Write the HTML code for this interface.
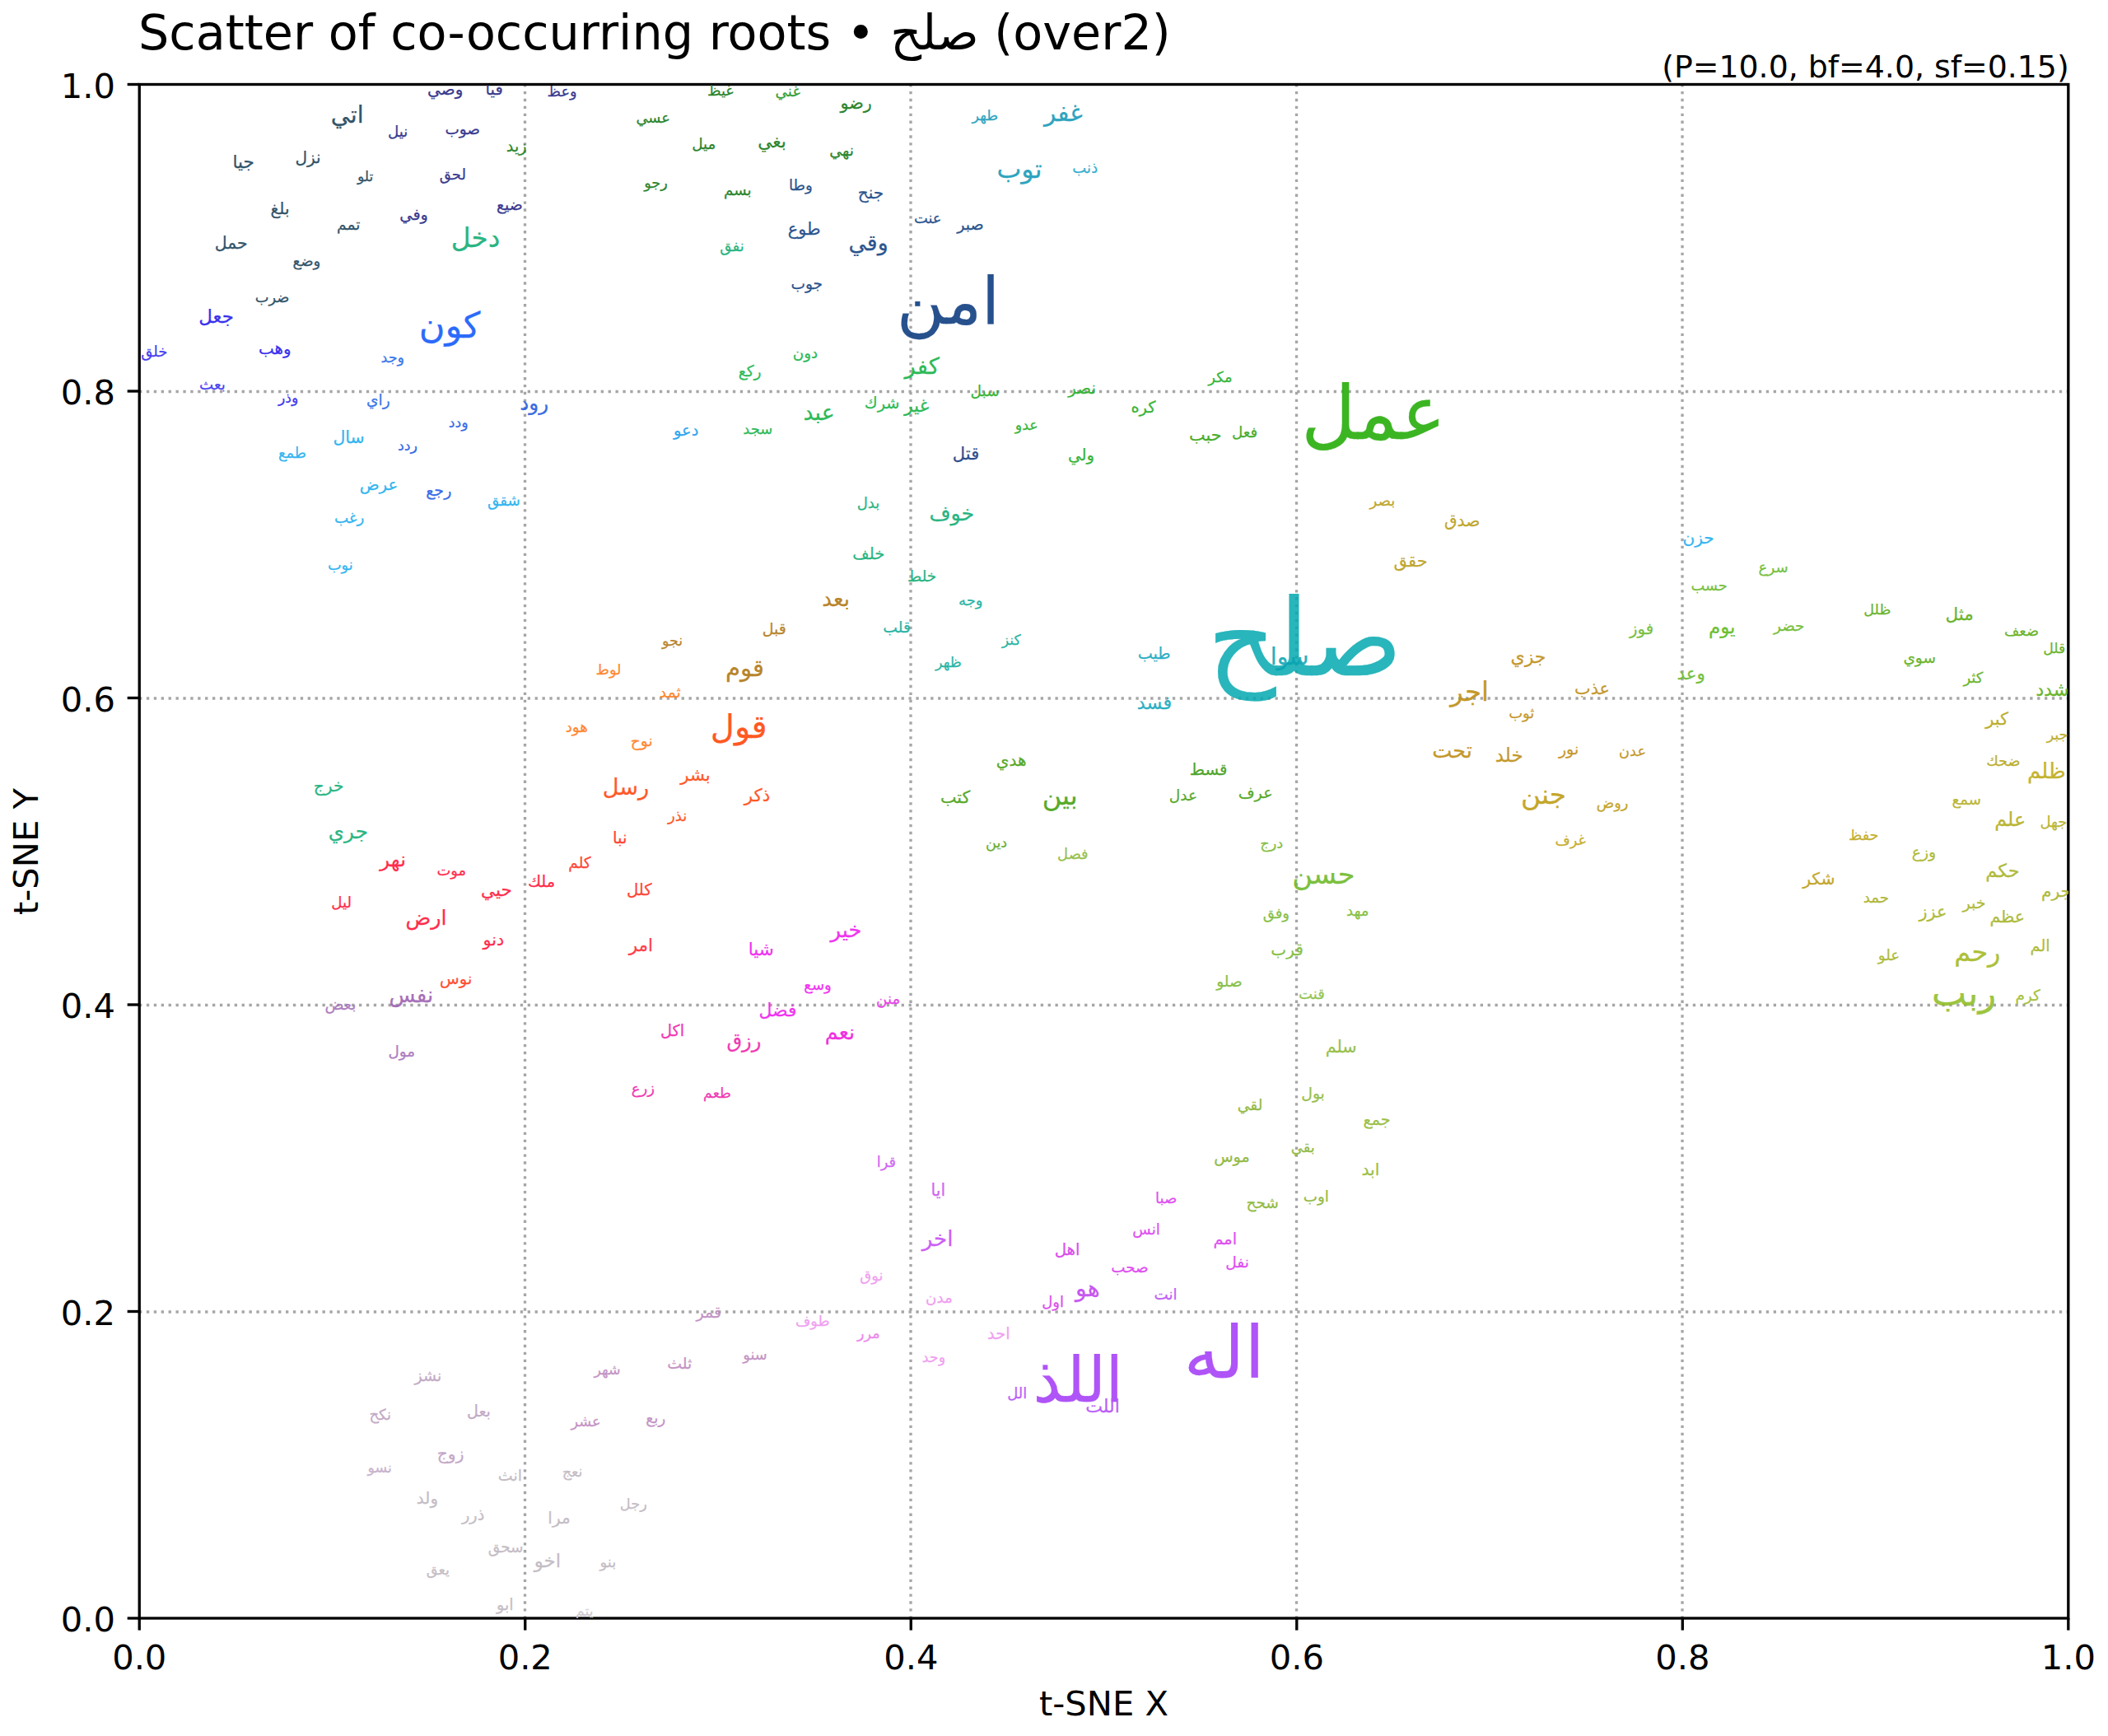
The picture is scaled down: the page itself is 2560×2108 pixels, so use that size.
<!DOCTYPE html>
<html lang="en"><head><meta charset="utf-8"><title>Scatter of co-occurring roots</title>
<style>
html,body{margin:0;padding:0}
body{width:2560px;height:2108px;background:#ffffff;position:relative;overflow:hidden;font-family:"DejaVu Sans","Liberation Sans",sans-serif;color:#000}
.t{position:absolute;white-space:nowrap;line-height:1}
#gr,#ax{position:absolute;left:169.25px;top:102.5px;width:2342.55px;height:1862.5px;overflow:hidden}
#ax b{position:absolute;white-space:nowrap;line-height:1;font-weight:normal;direction:rtl;opacity:0.92;-webkit-text-stroke:0.25px currentColor}
.xl{position:absolute;white-space:nowrap;line-height:1;font-size:41.67px;transform:translateX(-50%)}
.yl{position:absolute;white-space:nowrap;line-height:1;font-size:41.67px;text-align:right}
</style></head><body>
<div class="t" id="title" style="left:168px;top:11px;font-size:58.8px">Scatter of co-occurring roots • صلح (over2)</div>
<div class="t" id="sub" style="right:47.3px;top:62.9px;font-size:37.85px">(P=10.0, bf=4.0, sf=0.15)</div>
<div id="gr">
<svg width="2342.55" height="1862.5" viewBox="0 0 2342.55 1862.5" style="position:absolute;left:0;top:0" fill="none" stroke="#a6a6a6" stroke-width="3.333" stroke-dasharray="3.333 5.567">
<line x1="468.51" y1="1862.5" x2="468.51" y2="0"/>
<line x1="937.02" y1="1862.5" x2="937.02" y2="0"/>
<line x1="1405.53" y1="1862.5" x2="1405.53" y2="0"/>
<line x1="1874.04" y1="1862.5" x2="1874.04" y2="0"/>
<line x1="0" y1="1490" x2="2342.55" y2="1490"/>
<line x1="0" y1="1117.5" x2="2342.55" y2="1117.5"/>
<line x1="0" y1="745" x2="2342.55" y2="745"/>
<line x1="0" y1="372.5" x2="2342.55" y2="372.5"/>
</svg>
</div>
<svg width="2560" height="2108" viewBox="0 0 2560 2108" style="position:absolute;left:0;top:0" fill="none" stroke="#000" stroke-width="3.333">
<rect x="169.25" y="102.5" width="2342.55" height="1862.5"/>
<line x1="169.25" y1="1965" x2="169.25" y2="1979.58"/>
<line x1="154.67" y1="1965" x2="169.25" y2="1965"/>
<line x1="637.76" y1="1965" x2="637.76" y2="1979.58"/>
<line x1="154.67" y1="1592.5" x2="169.25" y2="1592.5"/>
<line x1="1106.27" y1="1965" x2="1106.27" y2="1979.58"/>
<line x1="154.67" y1="1220" x2="169.25" y2="1220"/>
<line x1="1574.78" y1="1965" x2="1574.78" y2="1979.58"/>
<line x1="154.67" y1="847.5" x2="169.25" y2="847.5"/>
<line x1="2043.29" y1="1965" x2="2043.29" y2="1979.58"/>
<line x1="154.67" y1="475" x2="169.25" y2="475"/>
<line x1="2511.8" y1="1965" x2="2511.8" y2="1979.58"/>
<line x1="154.67" y1="102.5" x2="169.25" y2="102.5"/>
</svg>
<div id="ax">
<b style="left:1297.1px;top:608.22px;font-size:129.76px;color:#05a9b1;opacity:0.86">صلح</b>
<b style="left:1411.04px;top:354.05px;font-size:90.88px;color:#2caf11">عمل</b>
<b style="left:1268.23px;top:1496.99px;font-size:87.93px;color:#a946f7">اله</b>
<b style="left:919.67px;top:223.72px;font-size:79.58px;color:#144384">امن</b>
<b style="left:1085.34px;top:1535.08px;font-size:76.03px;color:#a946f7">اللذ</b>
<b style="left:2176.57px;top:1080.32px;font-size:45.07px;color:#8ebc23;opacity:0.86">ربب</b>
<b style="left:339.39px;top:271.44px;font-size:43.3px;color:#1a5ffa">كون</b>
<b style="left:693.59px;top:759.17px;font-size:40.01px;color:#ff4c0f">قول</b>
<b style="left:1399.88px;top:942.14px;font-size:33.59px;color:#71bb2f">حسن</b>
<b style="left:378.42px;top:170.54px;font-size:32.79px;color:#17af78">دخل</b>
<b style="left:1677.72px;top:846.61px;font-size:32.72px;color:#bfa01a">جنن</b>
<b style="left:1592px;top:721.89px;font-size:32.32px;color:#bf911a">اجر</b>
<b style="left:1096.39px;top:847.02px;font-size:32.05px;color:#4ca317">بين</b>
<b style="left:1041.22px;top:87.55px;font-size:31.77px;color:#1d9dbb">توب</b>
<b style="left:2204.06px;top:1038.54px;font-size:31.77px;color:#a7bb29">رحم</b>
<b style="left:1098.67px;top:19.48px;font-size:29.65px;color:#1d9dbb">غفر</b>
<b style="left:711.65px;top:694.04px;font-size:29.17px;color:#b27b19">قوم</b>
<b style="left:232.5px;top:22.4px;font-size:28.68px;color:#22475d">اتي</b>
<b style="left:1373.46px;top:680.68px;font-size:28.63px;color:#07a3b1;opacity:0.86">سوا</b>
<b style="left:1136.69px;top:1448.63px;font-size:28.44px;color:#c349ef">هو</b>
<b style="left:929.29px;top:328.95px;font-size:27.53px;color:#1bb54c">كفر</b>
<b style="left:562.39px;top:839.56px;font-size:27.14px;color:#ff4c15">رسل</b>
<b style="left:861.21px;top:179.66px;font-size:26.88px;color:#194886">وقي</b>
<b style="left:806.24px;top:385.11px;font-size:26.83px;color:#1bb54c">عبد</b>
<b style="left:828.98px;top:611.26px;font-size:26.22px;color:#b27b19">بعد</b>
<b style="left:950.42px;top:1388.63px;font-size:26.17px;color:#c852f4">اخر</b>
<b style="left:303.31px;top:1092.3px;font-size:26.11px;color:#a064b2">نفس</b>
<b style="left:2292.87px;top:821.84px;font-size:25.91px;color:#bfad20">ظلم</b>
<b style="left:839.16px;top:1014.96px;font-size:25.86px;color:#ef23ef">خير</b>
<b style="left:1570.06px;top:796.49px;font-size:25.52px;color:#bf911a">تحت</b>
<b style="left:832.55px;top:1138.42px;font-size:25.46px;color:#ef1edd">نعم</b>
<b style="left:323.32px;top:999.92px;font-size:25.45px;color:#ff1b3e">ارض</b>
<b style="left:959.13px;top:508.32px;font-size:25.28px;color:#17af78">خوف</b>
<b style="left:462.09px;top:375.42px;font-size:24.69px;color:#2960dd">رود</b>
<b style="left:292.05px;top:929.6px;font-size:24.6px;color:#ff1b3e">نهر</b>
<b style="left:229.61px;top:895.52px;font-size:24.57px;color:#17af78">جري</b>
<b style="left:713.2px;top:1149.99px;font-size:24.05px;color:#ef29ad">رزق</b>
<b style="left:2252.93px;top:881.7px;font-size:23.81px;color:#b6b025">علم</b>
<b style="left:1646.43px;top:803.11px;font-size:23.04px;color:#bf911a">خلد</b>
<b style="left:1905.7px;top:647.75px;font-size:23px;color:#5fbb23">يوم</b>
<b style="left:479.48px;top:1781.81px;font-size:22.88px;color:#c1b8c1">اخو</b>
<b style="left:72.05px;top:270.28px;font-size:22.86px;color:#2920ed">جعل</b>
<b style="left:2242.06px;top:943.6px;font-size:22.47px;color:#a9b62b">حكم</b>
<b style="left:2302.91px;top:723.78px;font-size:22.39px;color:#60af1b">شدد</b>
<b style="left:1211.56px;top:739.79px;font-size:22.35px;color:#17a9c0">فسد</b>
<b style="left:928.69px;top:379.2px;font-size:22.03px;color:#1bb54c">غير</b>
<b style="left:1148.96px;top:1594.57px;font-size:22.03px;color:#b652f7">اللت</b>
<b style="left:1665.23px;top:684.7px;font-size:22px;color:#bf911a">جزي</b>
<b style="left:752.16px;top:1113.31px;font-size:21.88px;color:#ef23ef">فضل</b>
<b style="left:750.9px;top:58.06px;font-size:21.78px;color:#197b19">بغي</b>
<b style="left:113.18px;top:83.27px;font-size:21.6px;color:#22475d">جيا</b>
<b style="left:414.7px;top:967.29px;font-size:21.54px;color:#ff1b3e">حيي</b>
<b style="left:2193.31px;top:632px;font-size:21.53px;color:#60af1b">مثل</b>
<b style="left:594.4px;top:1034.11px;font-size:21.51px;color:#ff2f3a">امر</b>
<b style="left:739.49px;top:1039.19px;font-size:21.5px;color:#ef23ef">شيا</b>
<b style="left:1867.29px;top:704.61px;font-size:21.41px;color:#6cbb2f">وعد</b>
<b style="left:734.42px;top:852.31px;font-size:21.38px;color:#ff4c15">ذكر</b>
<b style="left:656.96px;top:827.81px;font-size:21.21px;color:#ff4c15">بشر</b>
<b style="left:987.57px;top:437.87px;font-size:21.08px;color:#1c4085">قتل</b>
<b style="left:1523.34px;top:568.21px;font-size:20.96px;color:#bba01e">حقق</b>
<b style="left:2241.88px;top:760.71px;font-size:20.92px;color:#b7a91e">كبر</b>
<b style="left:787.48px;top:165.12px;font-size:20.86px;color:#194886">طوع</b>
<b style="left:1274.77px;top:415.25px;font-size:20.82px;color:#3aa717">حبب</b>
<b style="left:1742.8px;top:723.78px;font-size:20.82px;color:#bf911a">عذب</b>
<b style="left:2161.16px;top:994.07px;font-size:20.75px;color:#a9b62b">عزز</b>
<b style="left:851.22px;top:12.25px;font-size:20.75px;color:#197b19">رضو</b>
<b style="left:1440.41px;top:1158.76px;font-size:20.71px;color:#91bb41">سلم</b>
<b style="left:972.76px;top:855.13px;font-size:20.67px;color:#4ca317">كتب</b>
<b style="left:417.33px;top:1028.37px;font-size:20.6px;color:#ff1b3e">دنو</b>
<b style="left:961.32px;top:1332.12px;font-size:20.47px;color:#cc5bf1">ايا</b>
<b style="left:91.45px;top:182.59px;font-size:20.44px;color:#22475d">حمل</b>
<b style="left:235.18px;top:418.22px;font-size:20.43px;color:#23afef">سال</b>
<b style="left:2247.22px;top:1000.19px;font-size:20.4px;color:#a9b62b">عظم</b>
<b style="left:1484.23px;top:1307.72px;font-size:20.28px;color:#93bb38">ابد</b>
<b style="left:361.54px;top:1652.36px;font-size:20.26px;color:#bfa0c3">زوج</b>
<b style="left:2019.95px;top:954.23px;font-size:20.24px;color:#bfa01a">شكر</b>
<b style="left:1584.66px;top:519.17px;font-size:20.2px;color:#bba01e">صدق</b>
<b style="left:211.58px;top:841.44px;font-size:20.16px;color:#17af78">خرج</b>
<b style="left:189.13px;top:78.93px;font-size:20.13px;color:#22475d">نزل</b>
<b style="left:159.35px;top:140.82px;font-size:20.09px;color:#22475d">بلغ</b>
<b style="left:2309.84px;top:969.16px;font-size:20.09px;color:#a9b62b">جرم</b>
<b style="left:872.53px;top:121.61px;font-size:20.08px;color:#194886">جنح</b>
<b style="left:1040.55px;top:810.08px;font-size:20.06px;color:#4ca317">هدي</b>
<b style="left:1874.21px;top:540.02px;font-size:20.05px;color:#23afef">حزن</b>
<b style="left:1374.07px;top:1040.73px;font-size:20.03px;color:#7ebb38">قرب</b>
<b style="left:336.54px;top:1706.87px;font-size:20.02px;color:#c1b8c1">ولد</b>
<b style="left:496.1px;top:1731.14px;font-size:19.97px;color:#c1b8c1">مرا</b>
<b style="left:349.86px;top:-3.22px;font-size:19.96px;color:#2a2a86">وصي</b>
<b style="left:574.75px;top:905.03px;font-size:19.95px;color:#ff3827">نبا</b>
<b style="left:144.83px;top:311.72px;font-size:19.86px;color:#2920ed">وهب</b>
<b style="left:1127.76px;top:440.7px;font-size:19.86px;color:#29af29">ولي</b>
<b style="left:267.41px;top:476.87px;font-size:19.8px;color:#23afef">عرض</b>
<b style="left:1111.4px;top:1405.45px;font-size:19.78px;color:#d941ea">اهل</b>
<b style="left:1128.12px;top:359.11px;font-size:19.75px;color:#29af29">نصر</b>
<b style="left:1275.56px;top:822.44px;font-size:19.71px;color:#409d17">قسط</b>
<b style="left:1809.83px;top:651.72px;font-size:19.67px;color:#6cbb2f">فوز</b>
<b style="left:591.67px;top:968.88px;font-size:19.67px;color:#ff3827">كلل</b>
<b style="left:866.09px;top:560.67px;font-size:19.65px;color:#17af78">خلف</b>
<b style="left:420.33px;top:-3.38px;font-size:19.55px;color:#2a2a86">فيا</b>
<b style="left:471.7px;top:958.2px;font-size:19.47px;color:#ff1b3e">ملك</b>
<b style="left:364.86px;top:1076.2px;font-size:19.44px;color:#ff411e">نوس</b>
<b style="left:648.83px;top:410.52px;font-size:19.41px;color:#1da0ef">دعو</b>
<b style="left:1304.15px;top:1392.04px;font-size:19.38px;color:#dd41ef">امم</b>
<b style="left:1204.19px;top:382.5px;font-size:19.37px;color:#29af29">كره</b>
<b style="left:1029.84px;top:1507.22px;font-size:19.37px;color:#ef98ef">احد</b>
<b style="left:445.57px;top:65.4px;font-size:19.35px;color:#1c811c">زيد</b>
<b style="left:391.8px;top:1727.96px;font-size:19.32px;color:#c1b8c1">ذرر</b>
<b style="left:316.07px;top:148.2px;font-size:19.3px;color:#2a2a86">وفي</b>
<b style="left:1334.39px;top:850.21px;font-size:19.28px;color:#4ca317">عرف</b>
<b style="left:880.56px;top:377.06px;font-size:19.27px;color:#1bb54c">شرك</b>
<b style="left:632.67px;top:1139.61px;font-size:19.24px;color:#ef29ad">اكل</b>
<b style="left:433.72px;top:1836.71px;font-size:19.22px;color:#c1b8c1">ابو</b>
<b style="left:1304.92px;top:1292.67px;font-size:19.21px;color:#8bb638">موس</b>
<b style="left:2296.37px;top:1036.15px;font-size:19.19px;color:#a9b62b">الم</b>
<b style="left:1212.39px;top:681.84px;font-size:19.15px;color:#17a9c0">طيب</b>
<b style="left:1486.26px;top:1247.39px;font-size:19.14px;color:#93bb38">جمع</b>
<b style="left:397.68px;top:1601.44px;font-size:19.1px;color:#bda3c1">بعل</b>
<b style="left:225.37px;top:1107.22px;font-size:19.09px;color:#a975bb">بعض</b>
<b style="left:993.09px;top:160.73px;font-size:19.07px;color:#194886">صبر</b>
<b style="left:2214.29px;top:984.08px;font-size:19.06px;color:#a9b62b">خبر</b>
<b style="left:348px;top:483.85px;font-size:19.02px;color:#2960e6">رجع</b>
<b style="left:334.34px;top:1558.29px;font-size:19.01px;color:#bda3c1">نشز</b>
<b style="left:435.53px;top:1679.2px;font-size:19px;color:#c1b8c1">انث</b>
<b style="left:676.31px;top:1481.04px;font-size:18.98px;color:#bf8bc1">قمر</b>
<b style="left:756.44px;top:651.26px;font-size:18.97px;color:#b27b19">قبل</b>
<b style="left:1723.74px;top:797.7px;font-size:18.92px;color:#bf911a">نور</b>
<b style="left:641.06px;top:1543.86px;font-size:18.91px;color:#bf8bc1">ثلث</b>
<b style="left:433.76px;top:136.6px;font-size:18.91px;color:#2a2a86">ضيع</b>
<b style="left:1410.94px;top:1216.18px;font-size:18.85px;color:#91bb41">بول</b>
<b style="left:2152.49px;top:923.42px;font-size:18.85px;color:#a9b62b">وزع</b>
<b style="left:838.05px;top:71.66px;font-size:18.81px;color:#197b19">نهي</b>
<b style="left:903.1px;top:650.66px;font-size:18.8px;color:#17af9d">قلب</b>
<b style="left:520.96px;top:936.92px;font-size:18.73px;color:#ff3827">كلم</b>
<b style="left:727.48px;top:339.13px;font-size:18.71px;color:#1bb54c">ركع</b>
<b style="left:239.71px;top:161.79px;font-size:18.7px;color:#22475d">تمم</b>
<b style="left:614.95px;top:1610.97px;font-size:18.69px;color:#bf8bc1">ربع</b>
<b style="left:631.62px;top:729.93px;font-size:18.68px;color:#ff7e21">ثمد</b>
<b style="left:1333.57px;top:1230.55px;font-size:18.64px;color:#8bb638">لقي</b>
<b style="left:791.16px;top:233.42px;font-size:18.61px;color:#194886">جوب</b>
<b style="left:1250.52px;top:854.72px;font-size:18.58px;color:#4ca317">عدل</b>
<b style="left:1318.96px;top:1421.47px;font-size:18.57px;color:#dd41ef">نفل</b>
<b style="left:932.78px;top:588.12px;font-size:18.57px;color:#17af78">خلط</b>
<b style="left:596.6px;top:788.71px;font-size:18.57px;color:#ff7e21">نوح</b>
<b style="left:275.74px;top:374.89px;font-size:18.57px;color:#296ce6">راي</b>
<b style="left:1009.28px;top:363.37px;font-size:18.53px;color:#29af29">سبل</b>
<b style="left:1344.23px;top:1349.62px;font-size:18.53px;color:#8bb638">شحح</b>
<b style="left:423.49px;top:1767.48px;font-size:18.5px;color:#c1b8c1">سحق</b>
<b style="left:2142.17px;top:687.67px;font-size:18.47px;color:#60af1b">سوي</b>
<b style="left:1308.05px;top:1080.04px;font-size:18.45px;color:#7ebb38">صلو</b>
<b style="left:371.21px;top:45.1px;font-size:18.45px;color:#2a2a86">صوب</b>
<b style="left:236.65px;top:517.53px;font-size:18.39px;color:#23afef">رغب</b>
<b style="left:1179.99px;top:1427.42px;font-size:18.36px;color:#dd41ef">صحب</b>
<b style="left:2278.26px;top:1097.84px;font-size:18.36px;color:#a0bd32">كرم</b>
<b style="left:793.5px;top:317.01px;font-size:18.36px;color:#1bb54c">دون</b>
<b style="left:302.27px;top:1165.98px;font-size:18.34px;color:#a975bb">مول</b>
<b style="left:422.72px;top:496.63px;font-size:18.33px;color:#23afef">شقق</b>
<b style="left:1984.86px;top:648.9px;font-size:18.33px;color:#6cbb2f">حضر</b>
<b style="left:954.78px;top:1464.56px;font-size:18.32px;color:#ef98ef">مدن</b>
<b style="left:772.35px;top:-0.3px;font-size:18.32px;color:#299829">غني</b>
<b style="left:670.99px;top:63.11px;font-size:18.31px;color:#197b19">ميل</b>
<b style="left:1232.32px;top:1460.03px;font-size:18.29px;color:#bb52f7">انت</b>
<b style="left:1206.12px;top:1381.88px;font-size:18.28px;color:#dd41ef">انس</b>
<b style="left:301.69px;top:48.76px;font-size:18.27px;color:#2a2a86">نيل</b>
<b style="left:894.74px;top:1101.82px;font-size:18.25px;color:#e638e6">منن</b>
<b style="left:788.78px;top:113.53px;font-size:18.24px;color:#194886">وطا</b>
<b style="left:517.41px;top:771.4px;font-size:18.24px;color:#ff7e21">هود</b>
<b style="left:2093.45px;top:978.64px;font-size:18.24px;color:#abb229">حمد</b>
<b style="left:1413.6px;top:1341.91px;font-size:18.24px;color:#8bb638">اوب</b>
<b style="left:709.79px;top:119.61px;font-size:18.23px;color:#197b19">بسم</b>
<b style="left:2111.49px;top:1048.92px;font-size:18.22px;color:#a9b62b">علو</b>
<b style="left:705.11px;top:187.73px;font-size:18.21px;color:#17af78">نفق</b>
<b style="left:1326.77px;top:413.17px;font-size:18.2px;color:#3aa717">فعل</b>
<b style="left:559.17px;top:1785.48px;font-size:18.2px;color:#c1b8c1">بنو</b>
<b style="left:72.86px;top:355.75px;font-size:18.18px;color:#3a34f1">بعث</b>
<b style="left:641.71px;top:879.23px;font-size:18.18px;color:#ff4c15">نذر</b>
<b style="left:232.95px;top:984.81px;font-size:18.17px;color:#ff1b3e">ليل</b>
<b style="left:1.9px;top:315.21px;font-size:18.15px;color:#362ff1">خلق</b>
<b style="left:1966.34px;top:577.16px;font-size:18.14px;color:#6cbb2f">سرع</b>
<b style="left:2201.34px;top:859.52px;font-size:18.14px;color:#b6b025">سمع</b>
<b style="left:186.32px;top:205.3px;font-size:18.13px;color:#22475d">وضع</b>
<b style="left:1494.28px;top:496.61px;font-size:18.12px;color:#bba01e">بصر</b>
<b style="left:1233.77px;top:1343.51px;font-size:18.11px;color:#dd41ef">صبا</b>
<b style="left:1465.67px;top:994.66px;font-size:18.11px;color:#7ebb38">مهد</b>
<b style="left:1407.87px;top:1095.37px;font-size:18.09px;color:#8cbf46">قنت</b>
<b style="left:807.07px;top:1084.93px;font-size:18.09px;color:#ef23ef">وسع</b>
<b style="left:994.76px;top:617.45px;font-size:18.09px;color:#17af9d">وجه</b>
<b style="left:1133.12px;top:92.97px;font-size:18.09px;color:#2aa9cc">ذنب</b>
<b style="left:597.52px;top:1210.96px;font-size:18.08px;color:#ef29ad">زرع</b>
<b style="left:364.4px;top:100.13px;font-size:18.08px;color:#2a2a86">لحق</b>
<b style="left:279.14px;top:1606.76px;font-size:18.07px;color:#bda3c1">نكح</b>
<b style="left:871.49px;top:499.75px;font-size:18.06px;color:#17af78">بدل</b>
<b style="left:1364.41px;top:997.77px;font-size:18.04px;color:#7ebb38">وفق</b>
<b style="left:1662.88px;top:754.84px;font-size:17.98px;color:#bf911a">ثوب</b>
<b style="left:1095.99px;top:1469.59px;font-size:17.94px;color:#d941ea">اول</b>
<b style="left:895.45px;top:1299.34px;font-size:17.93px;color:#cc5bf1">قرا</b>
<b style="left:1053.96px;top:1580.19px;font-size:17.93px;color:#b652f7">الل</b>
<b style="left:875.12px;top:1437.97px;font-size:17.93px;color:#ef98ef">نوق</b>
<b style="left:1298.01px;top:346.85px;font-size:17.92px;color:#29af29">مكر</b>
<b style="left:1398.6px;top:1281.32px;font-size:17.89px;color:#8bb638">بقي</b>
<b style="left:2215.22px;top:711.62px;font-size:17.88px;color:#60af1b">كثر</b>
<b style="left:361.18px;top:945.19px;font-size:17.88px;color:#ff1b3e">موت</b>
<b style="left:1114.86px;top:925.85px;font-size:17.88px;color:#91bb41">فصل</b>
<b style="left:733.02px;top:409.69px;font-size:17.87px;color:#1bb54c">سجد</b>
<b style="left:1360.92px;top:912.14px;font-size:17.86px;color:#7ebb38">درج</b>
<b style="left:940.65px;top:153.84px;font-size:17.86px;color:#194886">عنت</b>
<b style="left:603.23px;top:31.62px;font-size:17.85px;color:#197b19">عسي</b>
<b style="left:689.81px;top:-1.84px;font-size:17.84px;color:#197b19">غيظ</b>
<b style="left:168.84px;top:438.77px;font-size:17.84px;color:#23afef">طمع</b>
<b style="left:2308.25px;top:886.95px;font-size:17.82px;color:#b6b025">جهل</b>
<b style="left:1769.47px;top:863.04px;font-size:17.81px;color:#bfa01a">روض</b>
<b style="left:140.49px;top:249.31px;font-size:17.78px;color:#22475d">ضرب</b>
<b style="left:228.63px;top:574.28px;font-size:17.78px;color:#23afef">نوب</b>
<b style="left:733px;top:1534.18px;font-size:17.75px;color:#bf8bc1">سنو</b>
<b style="left:1796.81px;top:801.2px;font-size:17.74px;color:#bf911a">عدن</b>
<b style="left:2264.75px;top:655.91px;font-size:17.73px;color:#60af1b">ضعف</b>
<b style="left:495.35px;top:0.71px;font-size:17.72px;color:#2a2a86">وعظ</b>
<b style="left:513.4px;top:1676.95px;font-size:17.71px;color:#c1b8c1">نعج</b>
<b style="left:1719.21px;top:909.21px;font-size:17.71px;color:#c3a91e">غرف</b>
<b style="left:583.57px;top:1715.35px;font-size:17.7px;color:#c1b8c1">رجل</b>
<b style="left:796.75px;top:1493.23px;font-size:17.7px;color:#ef98ef">طوف</b>
<b style="left:524.32px;top:1615.18px;font-size:17.69px;color:#bf8bc1">عشر</b>
<b style="left:1884.28px;top:600.3px;font-size:17.69px;color:#6cbb2f">حسب</b>
<b style="left:348.39px;top:1795.31px;font-size:17.69px;color:#c1b8c1">يعق</b>
<b style="left:554.3px;top:702.24px;font-size:17.68px;color:#ff7e21">لوط</b>
<b style="left:1027.76px;top:912.96px;font-size:17.65px;color:#5da91e">دين</b>
<b style="left:2242.91px;top:813.08px;font-size:17.64px;color:#b7a91e">ضحك</b>
<b style="left:966.77px;top:693.02px;font-size:17.62px;color:#17af9d">ظهر</b>
<b style="left:871.73px;top:1508.64px;font-size:17.61px;color:#ea7eea">مرر</b>
<b style="left:612.99px;top:111.57px;font-size:17.61px;color:#197b19">رجو</b>
<b style="left:293.21px;top:323.38px;font-size:17.59px;color:#296ce6">وجد</b>
<b style="left:313.67px;top:430.48px;font-size:17.57px;color:#2960e6">ردد</b>
<b style="left:634.7px;top:667.56px;font-size:17.56px;color:#b27b19">نجو</b>
<b style="left:2094.08px;top:629.4px;font-size:17.55px;color:#60af1b">ظلل</b>
<b style="left:2075.87px;top:903.98px;font-size:17.52px;color:#bfa91e">حفظ</b>
<b style="left:1011.27px;top:29.86px;font-size:17.48px;color:#1d9dbb">طهر</b>
<b style="left:375.42px;top:402.81px;font-size:17.46px;color:#2960e6">ودد</b>
<b style="left:2316.45px;top:781.69px;font-size:17.45px;color:#b7a91e">جبر</b>
<b style="left:1063.47px;top:405.28px;font-size:17.44px;color:#29af29">عدو</b>
<b style="left:950.47px;top:1537.88px;font-size:17.43px;color:#ef98ef">وحد</b>
<b style="left:684.85px;top:1216.34px;font-size:17.37px;color:#ef29ad">طعم</b>
<b style="left:552.26px;top:1552.65px;font-size:17.37px;color:#bf8bc1">شهر</b>
<b style="left:1047.44px;top:666.93px;font-size:17.35px;color:#17af9d">كنز</b>
<b style="left:264.64px;top:103.43px;font-size:17.35px;color:#22475d">تلو</b>
<b style="left:277.23px;top:1671.73px;font-size:17.33px;color:#c3adc8">نسو</b>
<b style="left:168.68px;top:372.58px;font-size:17.28px;color:#3427ed">وذر</b>
<b style="left:529.75px;top:1845.16px;font-size:17.19px;color:#ccc8cc">يتم</b>
<b style="left:2312.05px;top:676.84px;font-size:17.19px;color:#60af1b">قلل</b>
</div>
<div class="xl" style="left:169.25px;top:1992px">0.0</div>
<div class="yl" style="right:2420px;top:1946.1px">0.0</div>
<div class="xl" style="left:637.76px;top:1992px">0.2</div>
<div class="yl" style="right:2420px;top:1573.6px">0.2</div>
<div class="xl" style="left:1106.27px;top:1992px">0.4</div>
<div class="yl" style="right:2420px;top:1201.1px">0.4</div>
<div class="xl" style="left:1574.78px;top:1992px">0.6</div>
<div class="yl" style="right:2420px;top:828.6px">0.6</div>
<div class="xl" style="left:2043.29px;top:1992px">0.8</div>
<div class="yl" style="right:2420px;top:456.1px">0.8</div>
<div class="xl" style="left:2511.8px;top:1992px">1.0</div>
<div class="yl" style="right:2420px;top:83.6px">1.0</div>
<div class="xl" id="xlab" style="left:1340.53px;top:2047.5px">t-SNE X</div>
<div class="t" id="ylab" style="left:0;top:0;font-size:41.67px;transform-origin:0 0;transform:translate(11px,1111px) rotate(-90deg)">t-SNE Y</div>
</body></html>
